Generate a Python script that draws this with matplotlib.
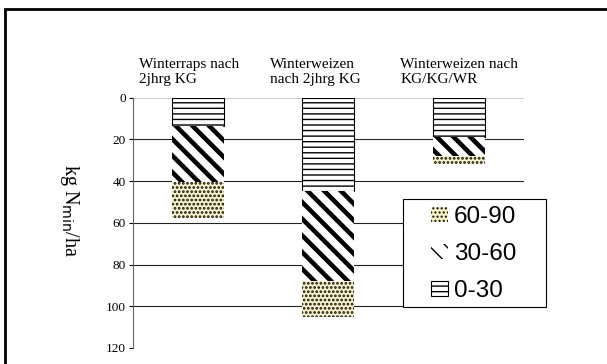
import matplotlib
matplotlib.use("Agg")
import matplotlib.pyplot as plt
from matplotlib.patches import Rectangle

# data (kg Nmin/ha per soil layer)
categories = ["Winterraps nach\n2jhrg KG",
              "Winterweizen\nnach 2jhrg KG",
              "Winterweizen nach\nKG/KG/WR"]
layer_0_30 = [13.5, 45, 19]
layer_30_60 = [27, 43, 9]
layer_60_90 = [17, 17, 4]
y_ticks = [0, 20, 40, 60, 80, 100, 120]

serif = ["Liberation Serif", "DejaVu Serif"]
sans = ["Liberation Sans", "DejaVu Sans"]

fig = plt.figure(figsize=(6.07, 3.64), dpi=100)
ax = fig.add_axes([0.219, 0.044, 0.644, 0.688])

# outer frame (cut off at right and bottom like the original slide)
fig.patches.append(Rectangle((5 / 607, -0.1), 1.2, 1 - 9 / 364 + 0.1,
                             transform=fig.transFigure, fill=False,
                             edgecolor="black", linewidth=2, zorder=0))

x = range(len(categories))
w = 0.4
bottom2 = [a + b for a, b in zip(layer_0_30, layer_30_60)]

b1 = ax.bar(x, layer_0_30, w, color="white", edgecolor="black",
            linewidth=0.8, hatch="---", label="0-30", zorder=3)
b2 = ax.bar(x, layer_30_60, w, bottom=layer_0_30, color="white",
            edgecolor="black", linewidth=0, hatch="\\\\", label="30-60", zorder=3)
b3 = ax.bar(x, layer_60_90, w, bottom=bottom2, color="#f6f2c6",
            edgecolor="#111111", linewidth=0, hatch="....", label="60-90", zorder=3)

for bars, lw in ((b1, 1.0), (b2, 3.3), (b3, 1.3)):
    for p in bars:
        if hasattr(p, "set_hatch_linewidth"):
            p.set_hatch_linewidth(lw)

ax.set_ylim(120, 0)
ax.set_xlim(-0.5, 2.5)
ax.set_yticks(y_ticks)
ax.set_yticklabels([str(t) for t in y_ticks], fontfamily=serif, fontsize=9.5)
ax.set_xticks([])
for t in y_ticks[1:-1]:
    ax.axhline(t, color="#222222", linewidth=0.8, zorder=1)
ax.axhline(0, color="#cccccc", linewidth=0.8, zorder=1)
for s in ("top", "right", "bottom"):
    ax.spines[s].set_visible(False)
ax.spines["left"].set_color("#666666")
ax.tick_params(axis="y", direction="out", length=3, width=0.8, pad=2)

for i, c in enumerate(categories):
    ax.text(i - 0.45, -5.3, c, ha="left", va="bottom", fontfamily=serif,
            fontsize=11, linespacing=1.25)

fig.text(0.115, 0.42, "kg N$_{\\rm min}$/ha", rotation=270, ha="center",
         va="center", fontfamily=serif, fontsize=14.5)

# legend box drawn separately so the handles sit inset like the original
ax.add_patch(Rectangle((403 / 607, 1 - 307 / 364), 143 / 607, 108 / 364,
                       transform=fig.transFigure, facecolor="white",
                       edgecolor="black", linewidth=0.8, zorder=6,
                       clip_on=False))
handles = [b3, b2, b1]
leg = ax.legend(handles, ["60-90", "30-60", "0-30"], loc="center left",
                bbox_to_anchor=(431 / 607, 1 - 254 / 364),
                bbox_transform=fig.transFigure,
                prop={"family": sans, "size": 17.5}, frameon=False,
                handlelength=0.7, handleheight=0.6, handletextpad=0.25,
                borderpad=0, labelspacing=0.62, borderaxespad=0)
leg.set_zorder(7)

fig.savefig("out.png", dpi=100)
